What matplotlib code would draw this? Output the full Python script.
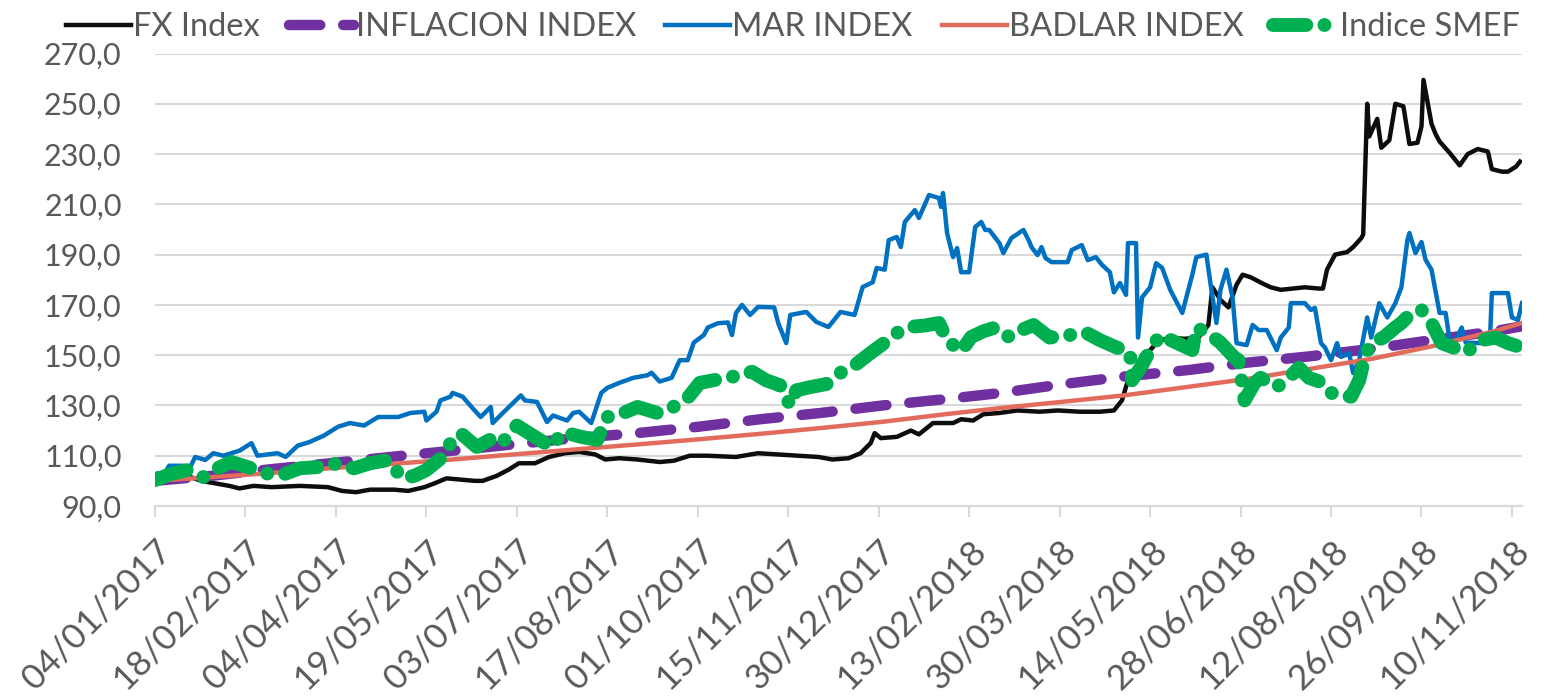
import numpy as np
import pandas as pd
import matplotlib
matplotlib.use("Agg")
import matplotlib.pyplot as plt
import matplotlib.dates as mdates
from matplotlib.ticker import FuncFormatter

plt.rcParams['font.family'] = ['Lato', 'DejaVu Sans']

# FX Index
fx_dates = ["2017-01-04", "2017-01-11", "2017-01-20", "2017-01-27", "2017-02-03", "2017-02-10", "2017-02-15",
            "2017-02-22", "2017-03-03", "2017-03-17", "2017-03-31", "2017-04-07", "2017-04-14", "2017-04-21",
            "2017-05-03", "2017-05-10", "2017-05-18", "2017-05-23", "2017-05-29", "2017-06-05", "2017-06-12",
            "2017-06-16", "2017-06-23", "2017-06-29", "2017-07-04", "2017-07-12", "2017-07-19", "2017-07-27",
            "2017-08-03", "2017-08-11", "2017-08-16", "2017-08-23", "2017-09-01", "2017-09-12", "2017-09-19",
            "2017-09-27", "2017-10-06", "2017-10-20", "2017-10-31", "2017-11-10", "2017-11-20", "2017-11-30",
            "2017-12-07", "2017-12-15", "2017-12-21", "2017-12-26", "2017-12-28", "2017-12-31", "2018-01-08",
            "2018-01-15", "2018-01-19", "2018-01-26", "2018-02-05", "2018-02-09", "2018-02-15", "2018-02-20",
            "2018-02-28", "2018-03-09", "2018-03-20", "2018-03-29", "2018-04-09", "2018-04-19", "2018-04-26",
            "2018-04-30", "2018-05-03", "2018-05-07", "2018-05-10", "2018-05-14", "2018-05-18", "2018-05-24",
            "2018-05-31", "2018-06-07", "2018-06-12", "2018-06-14", "2018-06-18", "2018-06-22", "2018-06-26",
            "2018-06-29", "2018-07-03", "2018-07-09", "2018-07-13", "2018-07-18", "2018-07-24", "2018-07-30",
            "2018-08-06", "2018-08-08", "2018-08-10", "2018-08-14", "2018-08-20", "2018-08-23", "2018-08-27",
            "2018-08-28", "2018-08-30", "2018-08-31", "2018-09-04", "2018-09-06", "2018-09-10", "2018-09-13",
            "2018-09-17", "2018-09-20", "2018-09-24", "2018-09-26", "2018-09-27", "2018-10-01", "2018-10-03",
            "2018-10-05", "2018-10-10", "2018-10-15", "2018-10-19", "2018-10-24", "2018-10-29", "2018-10-31",
            "2018-11-05", "2018-11-08", "2018-11-12", "2018-11-14"]
fx_values = [100, 101, 102, 100, 99, 98, 97,
             98, 97.5, 98, 97.5, 96, 95.5, 96.5,
             96.5, 96, 97.5, 99, 101, 100.5, 100,
             100, 102, 104.5, 107, 107, 109.5, 111,
             111.5, 110.5, 108.5, 109, 108.5, 107.5, 108,
             110, 110, 109.5, 111, 110.5, 110, 109.5,
             108.5, 109, 111, 115, 119, 117, 117.5,
             120, 118.5, 123, 123, 124.5, 124, 126.5,
             127, 128, 127.5, 128, 127.5, 127.5, 128,
             132, 140, 145, 150, 152, 155.5, 157,
             156.5, 157, 162, 177, 172, 169, 178,
             182, 181, 178.5, 177, 176, 176.5, 177,
             176.5, 176.5, 184, 190, 191, 193, 196.5,
             198, 250, 237, 244, 232.5, 235.5, 250,
             249, 234, 234.5, 241, 259.5, 242, 238,
             235, 230.5, 225.5, 230, 232, 231, 224,
             223, 223, 225, 227]

# INFLACION INDEX
inf_dates = ["2017-01-04", "2017-02-01", "2017-03-01", "2017-04-01", "2017-05-01", "2017-06-01", "2017-07-01",
             "2017-08-01", "2017-09-01", "2017-10-01", "2017-11-01", "2017-12-01", "2018-01-01", "2018-02-01",
             "2018-03-01", "2018-04-01", "2018-05-01", "2018-06-01", "2018-07-01", "2018-08-01", "2018-09-01",
             "2018-10-01", "2018-11-01", "2018-11-15"]
inf_values = [100, 102, 104.5, 107, 109.5, 112, 114.5,
              117, 119, 121.5, 124.5, 127, 130, 132.5,
              135, 138.5, 141.5, 144, 147, 149.5, 152.5,
              156, 159.5, 161.5]

# MAR INDEX
mar_dates = ["2017-01-04", "2017-01-05", "2017-01-08", "2017-01-11", "2017-01-18", "2017-01-20", "2017-01-24",
             "2017-01-29", "2017-02-02", "2017-02-07", "2017-02-15", "2017-02-21", "2017-02-24", "2017-03-06",
             "2017-03-10", "2017-03-16", "2017-03-22", "2017-03-29", "2017-04-05", "2017-04-11", "2017-04-18",
             "2017-04-25", "2017-05-05", "2017-05-11", "2017-05-18", "2017-05-19", "2017-05-24", "2017-05-26",
             "2017-05-31", "2017-06-01", "2017-06-06", "2017-06-12", "2017-06-15", "2017-06-20", "2017-06-21",
             "2017-06-26", "2017-07-05", "2017-07-07", "2017-07-13", "2017-07-18", "2017-07-21", "2017-07-28",
             "2017-07-31", "2017-08-03", "2017-08-09", "2017-08-14", "2017-08-17", "2017-08-23", "2017-08-30",
             "2017-09-06", "2017-09-08", "2017-09-12", "2017-09-18", "2017-09-22", "2017-09-26", "2017-09-29",
             "2017-10-04", "2017-10-06", "2017-10-11", "2017-10-16", "2017-10-18", "2017-10-20", "2017-10-23",
             "2017-10-27", "2017-10-31", "2017-11-08", "2017-11-10", "2017-11-14", "2017-11-16", "2017-11-24",
             "2017-11-29", "2017-12-05", "2017-12-11", "2017-12-18", "2017-12-22", "2017-12-27", "2017-12-29",
             "2018-01-02", "2018-01-04", "2018-01-08", "2018-01-10", "2018-01-12", "2018-01-17", "2018-01-19",
             "2018-01-24", "2018-01-29", "2018-01-30", "2018-01-31", "2018-02-02", "2018-02-05", "2018-02-07",
             "2018-02-09", "2018-02-13", "2018-02-16", "2018-02-19", "2018-02-21", "2018-02-23", "2018-02-28",
             "2018-03-02", "2018-03-06", "2018-03-12", "2018-03-15", "2018-03-16", "2018-03-19", "2018-03-21",
             "2018-03-23", "2018-03-26", "2018-04-03", "2018-04-05", "2018-04-10", "2018-04-13", "2018-04-17",
             "2018-04-20", "2018-04-24", "2018-04-26", "2018-04-29", "2018-05-02", "2018-05-03", "2018-05-07",
             "2018-05-08", "2018-05-10", "2018-05-14", "2018-05-17", "2018-05-20", "2018-05-24", "2018-05-30",
             "2018-06-04", "2018-06-06", "2018-06-11", "2018-06-13", "2018-06-16", "2018-06-18", "2018-06-21",
             "2018-06-24", "2018-06-26", "2018-07-01", "2018-07-04", "2018-07-07", "2018-07-11", "2018-07-16",
             "2018-07-18", "2018-07-22", "2018-07-23", "2018-07-30", "2018-08-02", "2018-08-04", "2018-08-07",
             "2018-08-09", "2018-08-12", "2018-08-15", "2018-08-17", "2018-08-21", "2018-08-23", "2018-08-26",
             "2018-08-30", "2018-09-01", "2018-09-05", "2018-09-09", "2018-09-13", "2018-09-16", "2018-09-19",
             "2018-09-20", "2018-09-23", "2018-09-26", "2018-09-28", "2018-10-01", "2018-10-05", "2018-10-08",
             "2018-10-10", "2018-10-13", "2018-10-16", "2018-10-18", "2018-10-25", "2018-10-30", "2018-10-31",
             "2018-11-05", "2018-11-08", "2018-11-10", "2018-11-13", "2018-11-15"]
mar_values = [100, 103, 102, 106, 106, 103, 109.5,
              108.3, 111, 110, 112, 115, 110, 111,
              109.5, 114, 115.5, 118, 121.5, 123, 122,
              125.4, 125.4, 127, 127.5, 124, 127.5, 132,
              133.5, 135, 133.5, 128, 125.4, 129.4, 123,
              127, 134, 132, 131.4, 123.4, 126, 124,
              127, 127.5, 123, 135, 137, 139, 141,
              142, 143, 139.5, 141, 148, 148, 155,
              158, 161, 162.7, 163, 158, 166.8, 170,
              166, 169.2, 169, 162.8, 154.8, 166, 167.2,
              163.2, 161.2, 167.2, 166, 177.1, 179, 184.7,
              184, 195.8, 197, 193, 203, 207.7, 204.6,
              213.7, 212.5, 209, 214.5, 198.6, 189, 192.6,
              183, 183, 201, 203, 199.8, 199.8, 194.6,
              190.6, 196.6, 199.8, 195, 193, 189.8, 193,
              188.6, 187, 187, 191.8, 193.8, 187.8, 189,
              186, 183, 175, 178.7, 174, 194.6, 194.6,
              157, 173, 177, 186.6, 184.7, 176, 166.8,
              182, 189, 190, 178.7, 162.8, 176, 184,
              173, 154.8, 154, 162, 160, 160, 152,
              157, 161, 170.7, 170.7, 168, 168.8, 154.8,
              153, 148, 154.8, 149.3, 150.9, 142.9, 148,
              165, 157, 170.7, 165, 170.7, 177, 195.8,
              198.6, 190.6, 195, 188, 184, 166.8, 166.8,
              156, 156, 161, 155, 154.8, 154.8, 174.7,
              174.7, 174.7, 165, 164, 170.7]

# BADLAR INDEX
badlar_dates = ["2017-01-04", "2017-02-01", "2017-03-01", "2017-04-01", "2017-05-01", "2017-06-01", "2017-07-01",
                "2017-08-01", "2017-09-01", "2017-10-01", "2017-11-01", "2017-12-01", "2018-01-01", "2018-02-01",
                "2018-03-01", "2018-04-01", "2018-05-01", "2018-06-01", "2018-07-01", "2018-08-01", "2018-09-01",
                "2018-10-01", "2018-11-01", "2018-11-15"]
badlar_values = [100, 101.5, 103, 105, 106.7, 108.5, 110.5,
                 112.5, 114.5, 116.5, 118.7, 121, 123.5, 126.5,
                 129, 131.5, 134, 137.3, 140.5, 144.5, 148.5,
                 153.5, 159.5, 162.8]

# Indice SMEF
smef_dates = ["2017-01-04", "2017-01-11", "2017-01-20", "2017-01-28", "2017-02-04", "2017-02-11", "2017-02-21",
              "2017-02-28", "2017-03-08", "2017-03-17", "2017-03-26", "2017-04-02", "2017-04-13", "2017-04-21",
              "2017-04-30", "2017-05-07", "2017-05-13", "2017-05-19", "2017-05-27", "2017-05-31", "2017-06-05",
              "2017-06-13", "2017-06-20", "2017-06-25", "2017-07-03", "2017-07-12", "2017-07-20", "2017-07-26",
              "2017-08-04", "2017-08-12", "2017-08-17", "2017-08-25", "2017-09-01", "2017-09-11", "2017-09-18",
              "2017-09-26", "2017-10-02", "2017-10-12", "2017-10-22", "2017-10-28", "2017-11-04", "2017-11-11",
              "2017-11-16", "2017-11-19", "2017-11-26", "2017-12-04", "2017-12-11", "2017-12-17", "2017-12-26",
              "2018-01-02", "2018-01-08", "2018-01-14", "2018-01-22", "2018-01-29", "2018-02-02", "2018-02-09",
              "2018-02-14", "2018-02-20", "2018-02-26", "2018-03-05", "2018-03-11", "2018-03-17", "2018-03-25",
              "2018-04-04", "2018-04-12", "2018-04-19", "2018-04-26", "2018-05-04", "2018-05-05", "2018-05-10",
              "2018-05-14", "2018-05-19", "2018-05-27", "2018-06-04", "2018-06-06", "2018-06-13", "2018-06-18",
              "2018-06-25", "2018-06-27", "2018-06-30", "2018-07-05", "2018-07-08", "2018-07-16", "2018-07-22",
              "2018-07-27", "2018-08-01", "2018-08-08", "2018-08-12", "2018-08-18", "2018-08-22", "2018-08-26",
              "2018-08-29", "2018-09-01", "2018-09-07", "2018-09-13", "2018-09-16", "2018-09-21", "2018-09-26",
              "2018-10-01", "2018-10-06", "2018-10-12", "2018-10-18", "2018-10-26", "2018-11-02", "2018-11-08",
              "2018-11-15"]
smef_values = [100.3, 102.5, 104.3, 101.5, 105, 107.5, 105,
               103, 102.3, 105, 105.5, 107, 105, 107,
               108.3, 101, 102, 104.3, 109.5, 115, 119,
               113.5, 116.5, 114.5, 122, 117.5, 113.5, 119.4,
               117.5, 116.3, 125.4, 127, 129.4, 127, 129,
               133, 139, 140.5, 142, 143.4, 140, 138,
               130, 136, 137.3, 138.5, 143, 145.3, 150.9,
               155, 158.8, 161.2, 161.8, 162.8, 156, 151.5,
               157.2, 159.5, 161, 157.2, 160, 162, 157,
               158, 159, 156, 153.5, 151, 140, 146,
               152, 158, 155, 152, 161, 158, 155,
               149, 148, 132, 139, 141, 137.3, 141,
               145, 141, 139, 135, 134, 133.5, 140,
               150, 154.8, 157, 161, 162.8, 166.8, 168,
               162.8, 154.8, 153, 151, 156, 157, 154.8,
               153]

labels = ['FX Index', 'INFLACION INDEX', 'MAR INDEX', 'BADLAR INDEX', 'Indice SMEF']
colors = ['#0d0d0d', '#7030a0', '#0070c0', '#e26b5d', '#00b050']

text_color = '#595959'
grid_color = '#d9d9d9'

fig = plt.figure(figsize=(15.45, 6.96), dpi=100)
ax = fig.add_axes([155 / 1545, 1 - 506 / 696, (1522 - 155) / 1545, (506 - 53.5) / 696])

ax.plot(pd.to_datetime(fx_dates), fx_values, color=colors[0], lw=3.2, label=labels[0],
        solid_joinstyle='round')
ax.plot(pd.to_datetime(inf_dates), inf_values, color=colors[1], lw=7.5, label=labels[1],
        dashes=(3.0, 2.2), dash_capstyle='round')
ax.plot(pd.to_datetime(mar_dates), mar_values, color=colors[2], lw=3.2, label=labels[2],
        solid_joinstyle='round')
ax.plot(pd.to_datetime(badlar_dates), badlar_values, color=colors[3], lw=3.2, label=labels[3])
ax.plot(pd.to_datetime(smef_dates), smef_values, color=colors[4], lw=10, label=labels[4],
        dashes=(2.4, 1.3, 0.01, 1.3), dash_capstyle='round', dash_joinstyle='round')

ax.set_xlim(pd.Timestamp('2017-01-04'), pd.Timestamp('2018-11-15'))
ax.set_ylim(90, 270)
ax.set_yticks(np.arange(90, 271, 20))
ax.yaxis.set_major_formatter(FuncFormatter(lambda v, p: f'{v:.1f}'.replace('.', ',')))

ticks = pd.date_range('2017-01-04', '2018-11-10', freq='45D')
ax.set_xticks(ticks)
ax.xaxis.set_major_formatter(mdates.DateFormatter('%d/%m/%Y'))

ax.yaxis.grid(True, color=grid_color, lw=1.5)
ax.set_axisbelow(True)
for s in ['top', 'right', 'left']:
    ax.spines[s].set_visible(False)
ax.spines['bottom'].set_color(grid_color)
ax.spines['bottom'].set_linewidth(1.5)

ax.tick_params(axis='y', length=0, pad=24, labelsize=22, labelcolor=text_color)
ax.tick_params(axis='x', length=8, width=1.5, color=grid_color, direction='out',
               labelsize=25.5, labelcolor=text_color, pad=12)
for lab in ax.get_xticklabels():
    lab.set_rotation(45)
    lab.set_ha('right')
    lab.set_va('top')
    lab.set_rotation_mode('anchor')

fig.legend(loc='upper center', bbox_to_anchor=(0.513, 1.025), ncol=5, frameon=False,
           fontsize=23.5, handlelength=2.0, handletextpad=0.05, columnspacing=0.9,
           labelcolor=text_color)

fig.savefig('out.png', dpi=100)
